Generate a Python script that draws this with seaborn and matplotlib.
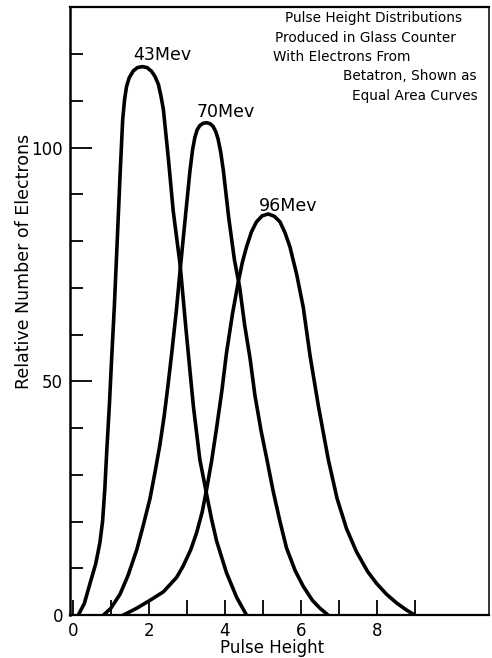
import numpy as np
import pandas as pd
import seaborn as sns
import matplotlib.pyplot as plt

# Curvas: altura de pulso vs numero relativo de electrones
pulso_43 = [0.14, 0.30, 0.45, 0.60, 0.71, 0.78, 0.84, 0.89, 0.96, 1.02, 1.09, 1.15, 1.24, 1.31,
            1.36, 1.41, 1.48, 1.59, 1.70, 1.83, 1.95, 2.07, 2.16, 2.25, 2.31, 2.38, 2.51, 2.64,
            2.82, 2.99, 3.17, 3.34, 3.52, 3.65, 3.78, 4.04, 4.31, 4.57]
elec_43 = [0, 2.5, 6.8, 11, 15.5, 20, 27, 35, 45, 55, 66, 77, 94, 106,
           110.3, 113, 114.9, 116.4, 117.1, 117.3, 117.1, 116.3, 115.2, 113.5, 111.3, 108.2, 97.8, 86.4,
           75, 59.9, 44.7, 33.3, 25.8, 20.5, 15.9, 9.1, 3.8, 0]

pulso_70 = [0.80, 1.00, 1.24, 1.45, 1.68, 1.86, 2.03, 2.17, 2.29, 2.40, 2.50, 2.60, 2.72, 2.82,
            2.95, 3.08, 3.15, 3.21, 3.27, 3.34, 3.43, 3.52, 3.61, 3.69, 3.76, 3.82, 3.89, 3.96,
            4.10, 4.25, 4.39, 4.52, 4.66, 4.79, 4.95, 5.10, 5.27, 5.45, 5.62, 5.85, 6.06, 6.30,
            6.50, 6.72]
elec_70 = [0, 1.5, 4.5, 8.5, 14, 19.5, 25, 31, 36.5, 42.5, 49, 56, 65, 73.7,
           84.4, 95, 99.6, 102.2, 103.8, 104.7, 105.2, 105.3, 105.1, 104.5, 103.4, 101.8, 99, 95,
           85, 76, 70, 62, 55, 47, 39.5, 33.5, 26.5, 20, 14.4, 9.5, 6.2, 3.2,
           1.5, 0]

pulso_96 = [1.32, 1.68, 2.03, 2.38, 2.73, 2.90, 3.10, 3.25, 3.40, 3.52, 3.65, 3.78, 3.92, 4.04,
            4.20, 4.35, 4.46, 4.57, 4.70, 4.83, 4.98, 5.14, 5.30, 5.45, 5.58, 5.71, 5.89, 6.06,
            6.24, 6.46, 6.72, 6.95, 7.20, 7.46, 7.75, 7.99, 8.25, 8.52, 8.78, 9.00]
elec_96 = [0, 1.5, 3.2, 5.0, 8.1, 10.5, 14, 17.5, 22, 27, 33, 40, 48, 56,
           64.5, 71.2, 75.5, 78.8, 82, 84.1, 85.4, 85.8, 85.3, 84.1, 81.8, 78.8, 72.8, 65.9,
           55.5, 44.7, 33.3, 25, 18.5, 13.6, 9.4, 6.8, 4.5, 2.6, 1.1, 0]

energias = ["43Mev", "70Mev", "96Mev"]

titulo = ["Pulse Height Distributions", "Produced in Glass Counter",
          "With Electrons From", "Betatron, Shown as", "Equal Area Curves"]

df = pd.concat([
    pd.DataFrame({"pulso": pulso_43, "electrones": elec_43, "energia": energias[0]}),
    pd.DataFrame({"pulso": pulso_70, "electrones": elec_70, "energia": energias[1]}),
    pd.DataFrame({"pulso": pulso_96, "electrones": elec_96, "energia": energias[2]}),
], ignore_index=True)

sns.set_style("white")
plt.rcParams['font.family'] = ['DejaVu Sans']
plt.rcParams.update({
    'text.color': 'black', 'axes.labelcolor': 'black',
    'xtick.color': 'black', 'ytick.color': 'black',
    'xtick.direction': 'in', 'ytick.direction': 'in',
    'xtick.bottom': True, 'ytick.left': True,
    'xtick.major.size': 11, 'xtick.minor.size': 11,
    'ytick.major.size': 16, 'ytick.minor.size': 9,
    'xtick.major.width': 1.3, 'xtick.minor.width': 1.3,
    'ytick.major.width': 1.3, 'ytick.minor.width': 1.3,
})

fig = plt.figure(figsize=(4.92, 6.58), dpi=100)
ax = fig.add_axes([0.142, 0.065, 0.852, 0.924])

sns.lineplot(data=df, x="pulso", y="electrones", hue="energia", palette=["black"] * 3,
             sort=False, estimator=None, legend=False, linewidth=2.6, ax=ax)
for linea in ax.lines:
    linea.set_solid_joinstyle('round')
    linea.set_solid_capstyle('round')

ax.set_xlim(-0.08, 10.95)
ax.set_ylim(0, 130)

# ticks hacia adentro
ax.set_xticks([0, 2, 4, 6, 8])
ax.set_xticks([1, 3, 5, 7, 9], minor=True)
ax.tick_params(axis='x', which='major', labelsize=12, pad=5)
ax.set_yticks([0, 50, 100])
ax.set_yticks([v for v in range(10, 130, 10) if v not in (50, 100)], minor=True)
ax.tick_params(axis='y', which='major', labelsize=12, pad=5)

for lado, ancho in [("left", 1.8), ("bottom", 1.6), ("top", 1.6), ("right", 1.1)]:
    ax.spines[lado].set_color('black')
    ax.spines[lado].set_linewidth(ancho)

ax.set_xlabel("Pulse Height", fontsize=12, labelpad=-1)
ax.xaxis.label.set_x(0.482)
ax.set_ylabel("Relative Number of Electrons", fontsize=12.5)
ax.yaxis.set_label_coords(-0.088, 0.582)

# etiquetas de cada curva
for nombre, (tx, ty) in zip(energias, [(2.34, 119.7), (4.03, 107.5), (5.66, 87.6)]):
    ax.text(tx, ty, nombre, ha='center', va='center', fontsize=12.5)

# bloque de texto arriba a la derecha
for linea, (tx, ty) in zip(titulo, [(5.58, 127.6), (5.32, 123.5), (5.26, 119.4),
                                     (7.10, 115.2), (7.34, 111.1)]):
    ax.text(tx, ty, linea, ha='left', va='center', fontsize=9.8)

fig.savefig("out.png", dpi=100)
